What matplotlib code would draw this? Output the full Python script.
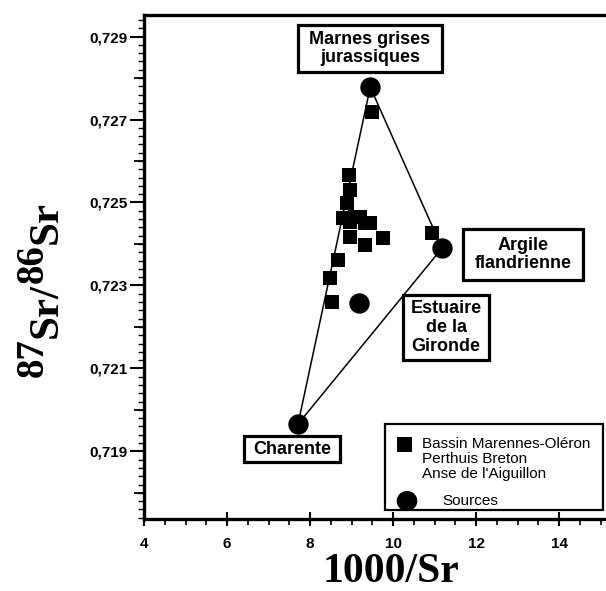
import numpy as np
import matplotlib.pyplot as plt
from matplotlib.patches import Rectangle
from matplotlib.ticker import MultipleLocator, FuncFormatter

plt.rcParams['font.family'] = ['Liberation Sans', 'DejaVu Sans']

# --- données ---
# échantillons (Bassin Marennes-Oléron, Perthuis Breton, Anse de l'Aiguillon)
ech_x = [8.94, 8.96, 8.89, 8.80, 9.08, 9.20, 9.45, 8.96, 9.33, 8.96, 9.33, 9.76,
         8.67, 8.48, 8.53, 9.49, 10.94]
ech_y = [0.72566, 0.72530, 0.72499, 0.72462, 0.72465, 0.72465, 0.72450, 0.72452,
         0.72450, 0.72417, 0.72397, 0.72414, 0.72361, 0.72318, 0.72260, 0.72718,
         0.72426]

# sources
src_noms = ["Marnes grises\njurassiques", "Argile\nflandrienne",
            "Estuaire\nde la\nGironde", "Charente"]
src_x = [9.45, 11.18, 9.18, 7.71]
src_y = [0.72778, 0.72390, 0.72258, 0.71966]

# triangle de mélange : Marnes - Argile - Charente
tri = [0, 1, 3, 0]

W, H = 606, 591
fig = plt.figure(figsize=(W / 100, H / 100), dpi=100)


def fx(x):
    return x / W


def fy(y):
    return 1 - y / H


ax = fig.add_axes([fx(144), fy(519), fx(604) - fx(144), fy(15) - fy(519)])

ax.plot([src_x[i] for i in tri], [src_y[i] for i in tri], color='black', lw=1.1, zorder=1)
ax.scatter(ech_x, ech_y, marker='s', s=92, color='black', linewidths=0, zorder=2)
ax.scatter(src_x, src_y, marker='o', s=215, color='black', linewidths=0, zorder=3)

ax.set_xlim(4, 15.08)
ax.set_ylim(0.71737, 0.72952)

ax.xaxis.set_major_locator(MultipleLocator(2))
ax.xaxis.set_minor_locator(MultipleLocator(0.5))
ax.yaxis.set_major_locator(MultipleLocator(0.002, offset=0.001))
ax.yaxis.set_minor_locator(MultipleLocator(0.0002))
ax.yaxis.set_major_formatter(FuncFormatter(lambda v, _: f"{v:.3f}".replace('.', ',')))

ax.tick_params(axis='x', which='major', direction='inout', length=10, width=1.5,
               labelsize=11, pad=8)
ax.tick_params(axis='x', which='minor', direction='out', length=4, width=1.2)
ax.tick_params(axis='y', which='major', direction='out', length=10, width=1.5,
               labelsize=11, pad=2)
ax.tick_params(axis='y', which='minor', direction='out', length=4, width=1.0)
for lab in ax.get_xticklabels() + ax.get_yticklabels():
    lab.set_fontweight('bold')

# ticks intermédiaires sur l'axe des ordonnées
sec = ax.secondary_yaxis('left')
sec.set_yticks([0.718, 0.720, 0.722, 0.724, 0.726, 0.728])
sec.set_yticklabels([])
sec.tick_params(direction='out', length=7, width=1.3)
sec.spines['left'].set_visible(False)

for side in ['left', 'bottom', 'top']:
    ax.spines[side].set_linewidth(2.4)
ax.spines['right'].set_visible(False)

# titre de l'axe x
fig.text(fx(391), fy(572), '1000/Sr', fontsize=30, fontweight='bold',
         family='Liberation Serif', ha='center', va='center')

# titre de l'axe y : 87Sr/86Sr, construit morceau par morceau
renderer = fig.canvas.get_renderer()
pieces = [("87", 28, 43), ("Sr/", 31, 57), ("86", 28, 43), ("Sr", 31, 57)]
y_cur = 377
for txt, size, xb in pieces:
    t = fig.text(fx(xb), fy(y_cur), txt, fontsize=size, fontweight='bold',
                 family='Liberation Serif', rotation=90, rotation_mode='anchor',
                 ha='left', va='baseline')
    y_cur -= t.get_window_extent(renderer).height

# étiquettes encadrées des sources
boites = [(298, 25, 442, 72), (463, 229, 583, 280), (403, 295, 489, 360), (244, 436, 340, 462)]
for nom, (x0, y0, x1, y1) in zip(src_noms, boites):
    fig.add_artist(Rectangle((fx(x0), fy(y1)), fx(x1) - fx(x0), fy(y0) - fy(y1),
                             transform=fig.transFigure, facecolor='white',
                             edgecolor='black', linewidth=2.3, zorder=4))
    fig.text(fx((x0 + x1) / 2), fy((y0 + y1) / 2), nom, ha='center', va='center',
             fontsize=13, fontweight='bold', linespacing=1.12, zorder=5)

# légende
fig.add_artist(Rectangle((fx(385), fy(510)), fx(603) - fx(385), fy(424) - fy(510),
                         transform=fig.transFigure, facecolor='white',
                         edgecolor='black', linewidth=1.6, zorder=4))
fig.add_artist(Rectangle((fx(397), fy(452)), fx(15), fy(0) - fy(15),
                         transform=fig.transFigure, facecolor='black',
                         edgecolor='none', zorder=5))
fig.text(fx(422), fy(437), "Bassin Marennes-Oléron\nPerthuis Breton\nAnse de l'Aiguillon",
         fontsize=11, va='top', ha='left', linespacing=1.08, zorder=5)
fig.add_artist(plt.Circle((fx(407), fy(501)), fx(10.3), transform=fig.transFigure,
                          facecolor='black', edgecolor='none', zorder=5))
fig.text(fx(442), fy(501), "Sources", fontsize=11, va='center', ha='left', zorder=5)

fig.savefig('out.png', dpi=100)
